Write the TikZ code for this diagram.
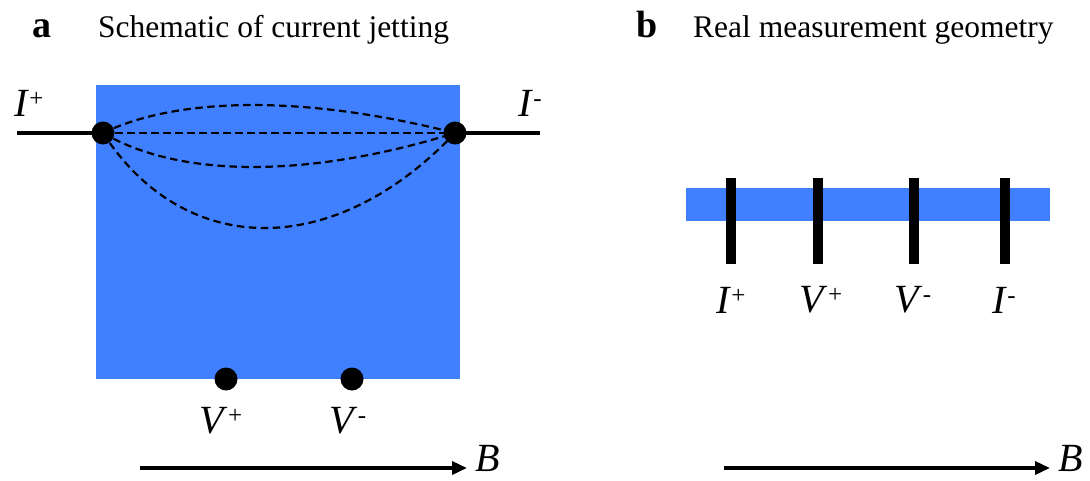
\documentclass[tikz,border=0pt]{standalone}
\usepackage{fontspec}
\setmainfont{Liberation Serif}
\usetikzlibrary{arrows.meta}
\definecolor{sample}{HTML}{4080FF}
\newcommand{\lab}[2]{\textit{#1}\raisebox{10pt}{\fontsize{25}{28}\selectfont\upshape #2}}
\begin{document}
\begin{tikzpicture}[x=1pt,y=-1pt,
  dot/.style={circle,fill=black,inner sep=0pt,minimum size=23pt},
  wire/.style={line width=3.5pt},
  jet/.style={dash pattern=on 7.5pt off 4.5pt,line width=2.2pt},
  bar/.style={fill=black,draw=none},
  lbl/.style={font=\fontsize{40}{44}\selectfont,inner sep=0pt},
  title/.style={font=\fontsize{31.5}{36}\selectfont,inner sep=0pt,anchor=base west},
  letter/.style={font=\fontsize{38}{40}\selectfont\bfseries,inner sep=0pt,anchor=base west},
  field/.style={line width=3.5pt,-{Triangle[length=15pt,width=13pt]},shorten >=8pt}]
\useasboundingbox (0,0) rectangle (1090,480);
% panel a
\node[letter] (ta) at (32,37) {a};
\node[title] (tta) at (98,37) {Schematic of current jetting};
\fill[sample] (96,85) rectangle (460,379);
\coordinate (wl) at (17,133);
\coordinate (wr) at (540,133);
\node[dot] (ip) at (103,133) {};
\node[dot] (im) at (455,133) {};
\draw[wire] (wl) -- (ip.center);
\draw[wire] (im.center) -- (wr);
\draw[jet] (ip.center) .. controls (180,95.7) and (309,95.7) .. (im.center);
\draw[jet] (ip.center) -- (im.center);
\draw[jet] (ip.center) .. controls (180,178.3) and (309,178.3) .. (im.center);
\draw[jet] (ip.center) .. controls (185,259.7) and (335,259.7) .. (im.center);
\node[dot] (vp) at (226,379) {};
\node[dot] (vm) at (352,379) {};
\node[lbl] (lip) at (29,103) {\lab{I}{+}};
\node[lbl] (lim) at (530,103) {\lab{I}{-}};
\node[lbl] (lvp) at (221,421) {\lab{V}{+}};
\node[lbl] (lvm) at (348,421) {\lab{V}{-}};
\coordinate (ba0) at (140,468);
\node[lbl,anchor=base west] (ba) at (475,471) {\textit{B}};
\draw[field] (ba0) -- (ba.west |- ba0);
% panel b
\node[letter] (tb) at (636,37) {b};
\node[title] (ttb) at (693,37) {Real measurement geometry};
\fill[sample] (686,188) rectangle (1050,221);
\foreach \n/\x in {b1/731,b2/818,b3/914,b4/1005}{
  \fill[bar] (\x-5,178) rectangle (\x+5,264);
}
\node[lbl] (lbip) at (731,300) {\lab{I}{+}};
\node[lbl] (lbvp) at (821,300) {\lab{V}{+}};
\node[lbl] (lbvm) at (913,300) {\lab{V}{-}};
\node[lbl] (lbim) at (1004,300) {\lab{I}{-}};
\coordinate (bb0) at (724,468);
\node[lbl,anchor=base west] (bb) at (1058,471) {\textit{B}};
\draw[field] (bb0) -- (bb.west |- bb0);
\end{tikzpicture}
\end{document}
